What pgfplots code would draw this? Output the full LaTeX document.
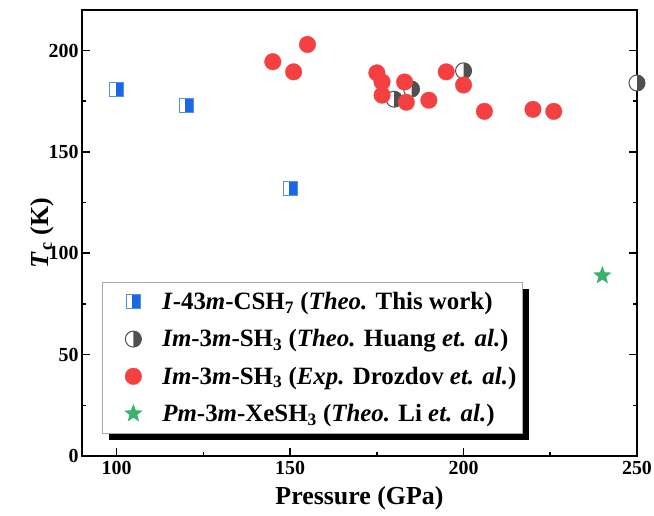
\documentclass[border=0pt]{standalone}
\usepackage{fontspec}
\setmainfont{Liberation Serif}
\usepackage{pgfplots}
\pgfplotsset{compat=1.18}
\usetikzlibrary{plotmarks,shadows}
\definecolor{cblue}{RGB}{28,104,226}
\definecolor{cblueedge}{RGB}{80,145,235}
\definecolor{cgray}{RGB}{80,80,80}
\definecolor{cred}{RGB}{244,64,64}
\definecolor{cgreen}{RGB}{56,178,108}
\definecolor{legedge}{RGB}{170,170,170}
\pgfdeclareplotmark{hsqR}{%
  \pgfpathrectangle{\pgfpoint{-\pgfplotmarksize}{-\pgfplotmarksize}}{\pgfpoint{2\pgfplotmarksize}{2\pgfplotmarksize}}%
  \pgfsetfillcolor{white}\pgfusepathqfill
  \pgfpathrectangle{\pgfpoint{-0.15\pgfplotmarksize}{-\pgfplotmarksize}}{\pgfpoint{1.15\pgfplotmarksize}{2\pgfplotmarksize}}%
  \pgfsetfillcolor{cblue}\pgfusepathqfill
  \pgfpathrectangle{\pgfpoint{-\pgfplotmarksize}{-\pgfplotmarksize}}{\pgfpoint{2\pgfplotmarksize}{2\pgfplotmarksize}}%
  \pgfusepathqstroke
}
\pgfdeclareplotmark{hcR}{%
  \pgfpathcircle{\pgfpointorigin}{\pgfplotmarksize}%
  \pgfsetfillcolor{white}\pgfusepathqfill
  \pgfpathmoveto{\pgfpoint{0pt}{\pgfplotmarksize}}%
  \pgfpatharc{90}{-90}{\pgfplotmarksize}%
  \pgfpathclose
  \pgfsetfillcolor{cgray}\pgfusepathqfill
  \pgfpathcircle{\pgfpointorigin}{\pgfplotmarksize}%
  \pgfusepathqstroke
}
\pgfdeclareplotmark{fstar}{%
  \pgfpathmoveto{\pgfpointpolar{90}{\pgfplotmarksize}}%
  \pgfpathlineto{\pgfpointpolar{126}{0.42\pgfplotmarksize}}%
  \pgfpathlineto{\pgfpointpolar{162}{\pgfplotmarksize}}%
  \pgfpathlineto{\pgfpointpolar{198}{0.42\pgfplotmarksize}}%
  \pgfpathlineto{\pgfpointpolar{234}{\pgfplotmarksize}}%
  \pgfpathlineto{\pgfpointpolar{270}{0.42\pgfplotmarksize}}%
  \pgfpathlineto{\pgfpointpolar{306}{\pgfplotmarksize}}%
  \pgfpathlineto{\pgfpointpolar{342}{0.42\pgfplotmarksize}}%
  \pgfpathlineto{\pgfpointpolar{18}{\pgfplotmarksize}}%
  \pgfpathlineto{\pgfpointpolar{54}{0.42\pgfplotmarksize}}%
  \pgfpathclose
  \pgfusepathqfillstroke
}
\begin{document}
\begin{tikzpicture}
\begin{axis}[
  scale only axis, width=555bp, height=446bp,
  xmin=90, xmax=250, ymin=0, ymax=220,
  xtick={100,150,200,250}, ytick={0,50,100,150,200},
  minor x tick num=1, minor y tick num=1,
  tick align=inside, xtick pos=bottom, ytick pos=both,
  major tick length=8bp, minor tick length=4bp,
  every tick/.style={black, line width=1.6bp},
  axis line style={line width=1.8bp},
  /pgf/number format/assume math mode=true,
  ticklabel style={font=\fontsize{20}{24}\selectfont\bfseries},
  xticklabel style={yshift=-2bp},
  xlabel={\textbf{Pressure (GPa)}},
  ylabel={\textbf{\textit{T}\kern1.5bp\textsubscript{c} (K)}},
  label style={font=\fontsize{26}{30}\selectfont},
  xlabel style={yshift=-5bp},
  ylabel style={yshift=-12bp},
  clip=false,
  legend cell align=left,
  legend image code/.code={%
    \path[draw=none, fill=none] (0bp,0bp) (54bp,0bp);
    \draw[#1] plot[only marks] coordinates {(27bp,0bp)};},
  legend style={at={(0.036,0.390)}, anchor=north west,
    font=\fontsize{25}{30}\selectfont\bfseries,
    draw=legedge, line width=0.8bp, fill=white,
    inner xsep=4bp, inner ysep=8bp, row sep=14.5bp,
    drop shadow={shadow xshift=7bp, shadow yshift=-7bp, fill=black, opacity=1}},
]
\addplot[only marks, mark=hsqR, mark size=7bp,
  mark options={draw=cblueedge, line width=1bp}]
  coordinates {(100,181) (120,173) (150,132)};
\addlegendentry{\textit{I}-43\textit{m}-CSH\textsubscript{7} (\textit{Theo.} This work)}
\addplot[only marks, mark=hcR, mark size=8bp,
  mark options={draw=cgray, line width=1bp}]
  coordinates {(180,176) (185,181) (200,190) (250,184)};
\addlegendentry{\textit{Im}-3\textit{m}-SH\textsubscript{3} (\textit{Theo.} Huang \textit{et. al.})}
\addplot[only marks, mark=*, mark size=8.3bp,
  mark options={draw=cred, fill=cred, line width=0.3bp}]
  coordinates {(145,194.5) (151,189.5) (155,203) (175,189) (176.5,184.5) (176.5,178)
    (183,184.5) (183.5,174.5) (190,175.5) (195,189.5) (200,183) (206,170)
    (220,171) (226,170)};
\addlegendentry{\textit{Im}-3\textit{m}-SH\textsubscript{3} (\textit{Exp.} Drozdov \textit{et. al.})}
\addplot[only marks, mark=fstar, mark size=8.5bp,
  mark options={draw=cgreen, fill=cgreen, line width=0.8bp}]
  coordinates {(240,89)};
\addlegendentry{\textit{Pm}-3\textit{m}-XeSH\textsubscript{3} (\textit{Theo.} Li \textit{et. al.})}
\end{axis}
\pgfresetboundingbox
\path[use as bounding box] ([xshift=-82bp,yshift=-60bp]current axis.south west) rectangle ([xshift=17bp,yshift=10bp]current axis.north east);
\end{tikzpicture}
\end{document}
